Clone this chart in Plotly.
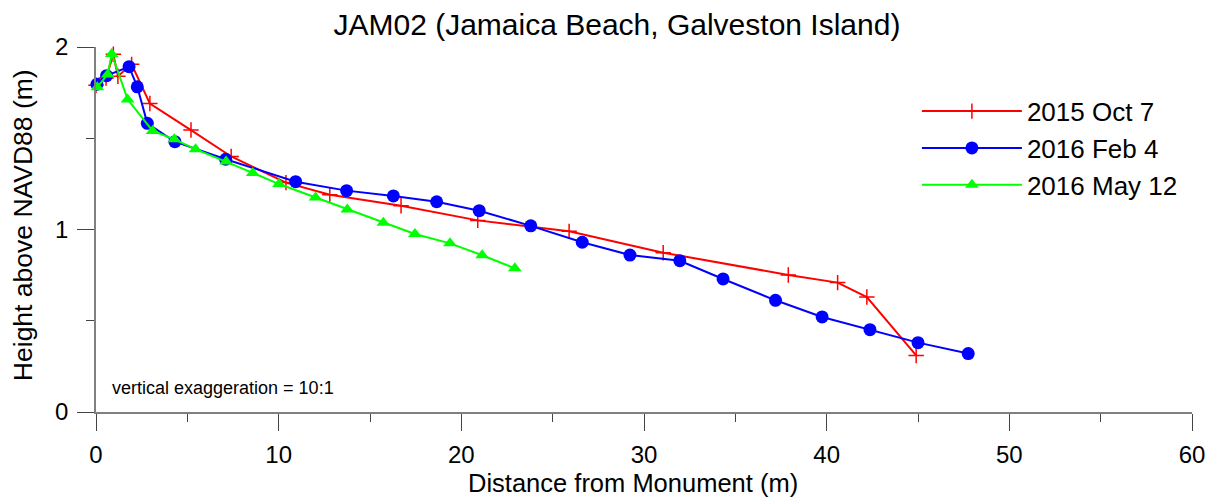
import plotly.graph_objects as go

# profile data
oct15_dist = [0.0, 0.55, 0.95, 1.2, 1.95, 2.95, 5.2, 7.4, 10.4, 12.8, 16.7, 20.9, 25.9, 31.05, 37.9, 40.6, 42.2, 44.9]
oct15_elev = [1.79, 1.83, 1.96, 1.84, 1.905, 1.69, 1.545, 1.40, 1.257, 1.19, 1.13, 1.05, 0.99, 0.873, 0.751, 0.709, 0.63, 0.31]

feb16_dist = [0.05, 0.58, 1.81, 2.26, 2.81, 4.32, 7.1, 10.93, 13.72, 16.28, 18.65, 20.98, 23.8, 26.62, 29.23, 31.96, 34.33, 37.2, 39.75, 42.37, 45.0, 47.75]
feb16_elev = [1.796, 1.843, 1.892, 1.782, 1.582, 1.481, 1.385, 1.262, 1.213, 1.184, 1.152, 1.103, 1.02, 0.93, 0.86, 0.829, 0.729, 0.612, 0.521, 0.451, 0.38, 0.32]

may16_dist = [0.07, 0.64, 0.86, 1.73, 3.1, 4.29, 5.45, 7.12, 8.58, 10.02, 12.02, 13.76, 15.73, 17.46, 19.38, 21.14, 22.93]
may16_elev = [1.78, 1.85, 1.962, 1.713, 1.54, 1.494, 1.44, 1.372, 1.31, 1.249, 1.176, 1.11, 1.037, 0.975, 0.924, 0.859, 0.787]

series = [
    ("2015 Oct 7", oct15_dist, oct15_elev, "#ff0000", dict(symbol="cross-thin", size=11, line=dict(color="#ff0000", width=1.5))),
    ("2016 Feb 4", feb16_dist, feb16_elev, "#0000ff", dict(symbol="circle", size=13, color="#0000ff")),
    ("2016 May 12", may16_dist, may16_elev, "#00ff00", dict(symbol="triangle-up", size=12, color="#00ff00")),
]

FONT = "Liberation Sans, Arial, sans-serif"

fig = go.Figure()
for name, xs, ys, col, mk in series:
    fig.add_trace(go.Scatter(x=xs, y=ys, name=name, mode="lines+markers",
                             line=dict(color=col, width=2), marker=mk,
                             cliponaxis=False, legendgroup=name))

# axis titles as annotations so they can sit slightly off-centre like the original
fig.add_annotation(text="Distance from Monument (m)", xref="paper", yref="paper",
                   x=0.4904, y=-0.1945, xanchor="center", yanchor="middle", showarrow=False,
                   font=dict(size=25.5))
fig.add_annotation(text="Height above NAVD88 (m)", xref="paper", yref="paper", textangle=-90,
                   x=-0.0666, y=0.512, xanchor="center", yanchor="middle", showarrow=False,
                   font=dict(size=26.5))
fig.add_annotation(text="vertical exaggeration = 10:1", xref="paper", yref="paper",
                   x=0.0125, y=0.066, xanchor="left", yanchor="middle", showarrow=False,
                   font=dict(size=18))

# page body has an 8px margin, so the figure is shrunk by that much
fig.update_layout(
    width=1213, height=494,
    margin=dict(l=88, r=29, t=39, b=90, autoexpand=False),
    paper_bgcolor="white", plot_bgcolor="white",
    font=dict(family=FONT, color="black", size=24),
    title=dict(text="JAM02 (Jamaica Beach, Galveston Island)", x=0.502, xanchor="center",
               y=0.967, yanchor="middle", font=dict(size=30)),
    legend=dict(x=0.749, y=0.8885, xanchor="left", yanchor="top", font=dict(size=26),
                itemwidth=100, tracegroupgap=0, traceorder="grouped", bgcolor="rgba(0,0,0,0)"),
)

fig.update_xaxes(range=[0, 60], dtick=10, showgrid=False, zeroline=False,
                 showline=True, linecolor="#808080", linewidth=1.5,
                 ticks="outside", ticklen=17, tickcolor="#444", tickwidth=1,
                 ticklabelstandoff=3,
                 minor=dict(dtick=5, ticks="outside", ticklen=8, tickcolor="#444", showgrid=False))
fig.update_yaxes(range=[0, 2], dtick=1, showgrid=False, zeroline=False,
                 showline=True, linecolor="#808080", linewidth=1.5,
                 ticks="outside", ticklen=17, tickcolor="#444", tickwidth=1,
                 ticklabelstandoff=4,
                 minor=dict(dtick=0.5, ticks="outside", ticklen=8, tickcolor="#444", showgrid=False))

fig.write_html("out.html")
